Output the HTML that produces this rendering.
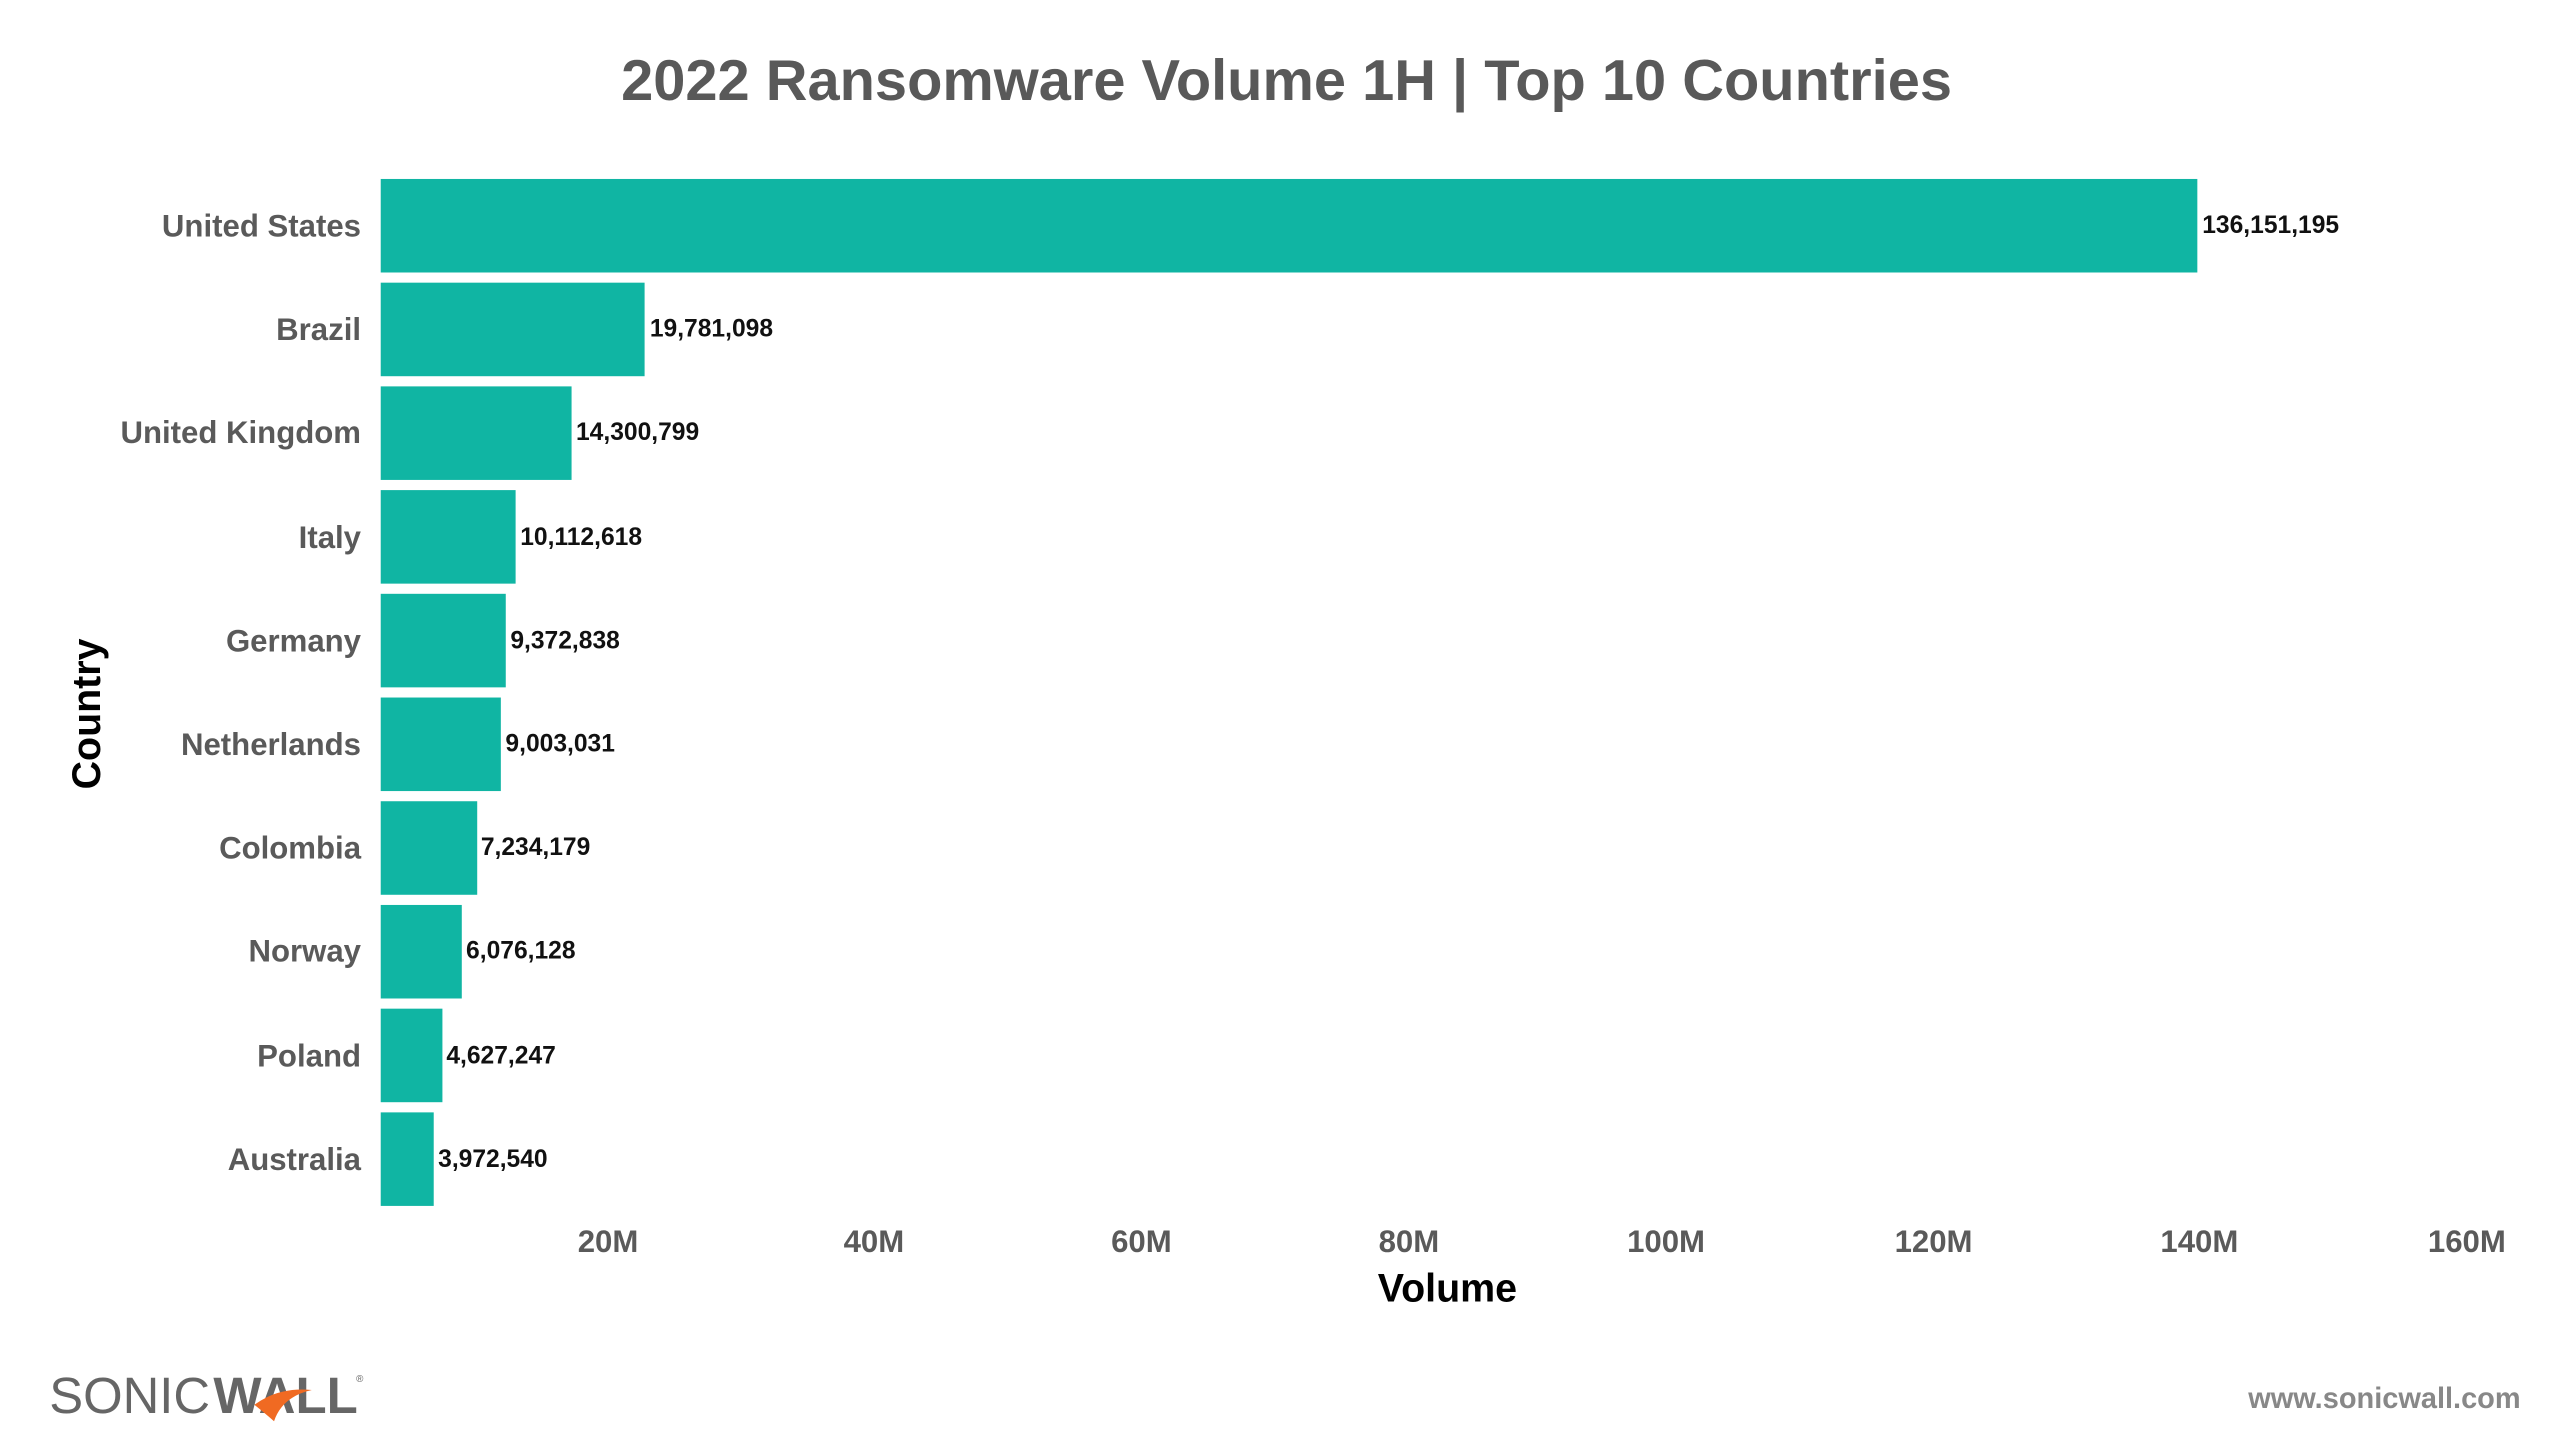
<!DOCTYPE html>
<html><head><meta charset="utf-8"><style>html,body{margin:0;padding:0;background:#fff;width:2560px;height:1441px;overflow:hidden}</style></head>
<body>
<svg width="2560" height="1441" viewBox="0 0 1560 878" xmlns="http://www.w3.org/2000/svg" font-family="Liberation Sans, sans-serif">
<rect width="1560" height="878" fill="#fff"/>
<text x="784" y="61" text-anchor="middle" font-size="35" font-weight="bold" fill="#595959" textLength="811" lengthAdjust="spacingAndGlyphs">2022 Ransomware Volume 1H | Top 10 Countries</text>
<g fill="#10b5a3">
<rect x="232" y="109" width="1107" height="57"/>
<rect x="232" y="172.2" width="160.8" height="57"/>
<rect x="232" y="235.4" width="116.3" height="57"/>
<rect x="232" y="298.6" width="82.2" height="57"/>
<rect x="232" y="361.8" width="76.2" height="57"/>
<rect x="232" y="425" width="73.2" height="57"/>
<rect x="232" y="488.2" width="58.8" height="57"/>
<rect x="232" y="551.4" width="49.4" height="57"/>
<rect x="232" y="614.6" width="37.6" height="57"/>
<rect x="232" y="677.8" width="32.3" height="57"/>
</g>
<g font-size="19" font-weight="bold" fill="#5a5a5a" text-anchor="end">
<text x="220" y="144">United States</text>
<text x="220" y="207">Brazil</text>
<text x="220" y="270">United Kingdom</text>
<text x="220" y="334">Italy</text>
<text x="220" y="397">Germany</text>
<text x="220" y="460">Netherlands</text>
<text x="220" y="523">Colombia</text>
<text x="220" y="586">Norway</text>
<text x="220" y="650">Poland</text>
<text x="220" y="713">Australia</text>
</g>
<g font-size="15" font-weight="bold" fill="#111">
<text x="1342" y="142">136,151,195</text>
<text x="396" y="205">19,781,098</text>
<text x="351" y="268">14,300,799</text>
<text x="317" y="332">10,112,618</text>
<text x="311" y="395">9,372,838</text>
<text x="308" y="458">9,003,031</text>
<text x="293" y="521">7,234,179</text>
<text x="284" y="584">6,076,128</text>
<text x="272" y="648">4,627,247</text>
<text x="267" y="711">3,972,540</text>
</g>
<g font-size="19" font-weight="bold" fill="#5a5a5a" text-anchor="end">
<text x="389" y="763">20M</text>
<text x="551" y="763">40M</text>
<text x="714" y="763">60M</text>
<text x="877" y="763">80M</text>
<text x="1039" y="763">100M</text>
<text x="1202" y="763">120M</text>
<text x="1364" y="763">140M</text>
<text x="1527" y="763">160M</text>
</g>
<text x="882" y="793" text-anchor="middle" font-size="24" font-weight="bold" fill="#000">Volume</text>
<text transform="translate(61,435) rotate(-90)" text-anchor="middle" font-size="24" font-weight="bold" fill="#000">Country</text>
<text x="30" y="861" font-size="31" fill="#666" textLength="98" lengthAdjust="spacingAndGlyphs">SONIC</text>
<text x="130" y="861" font-size="31" font-weight="bold" fill="#666" textLength="88" lengthAdjust="spacingAndGlyphs">WALL</text>
<text x="217" y="842" font-size="6" fill="#666">®</text>
<path d="M155 856 Q170 845 190 847 Q172 851 167 866 Q160 860 155 856Z" fill="#f06a22"/>
<text x="1536" y="858" text-anchor="end" font-size="18" font-weight="bold" fill="#888" textLength="166" lengthAdjust="spacingAndGlyphs">www.sonicwall.com</text>
</svg>
</body></html>
